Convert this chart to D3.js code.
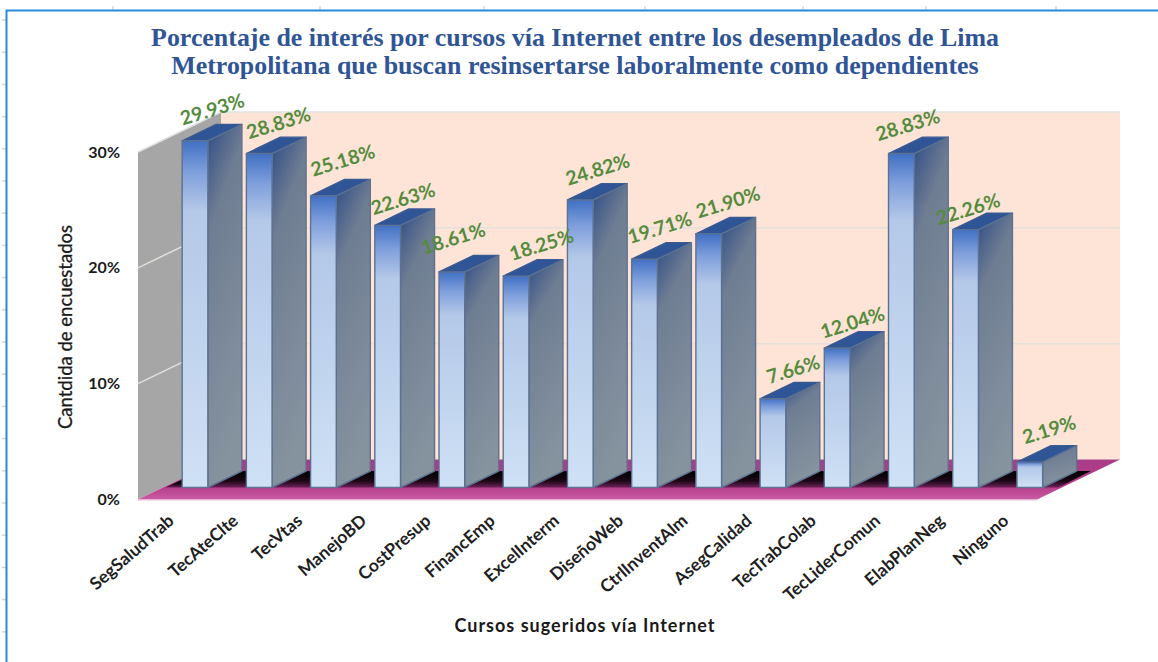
<!DOCTYPE html>
<html><head><meta charset="utf-8">
<style>html,body{margin:0;padding:0;background:#fff}svg{display:block}</style>
<script src="https://cdn.jsdelivr.net/npm/d3@7"></script></head>
<body><svg id="c" width="1158" height="662"></svg>
<script>
const categories=["SegSaludTrab","TecAteClte","TecVtas","ManejoBD","CostPresup","FinancEmp","ExcelInterm","DiseñoWeb","CtrlInventAlm","AsegCalidad","TecTrabColab","TecLiderComun","ElabPlanNeg","Ninguno"];
const values=[29.93,28.83,25.18,22.63,18.61,18.25,24.82,19.71,21.90,7.66,12.04,28.83,22.26,2.19];
const yTicks=[0,10,20,30];
const titleLines=["Porcentaje de interés por cursos vía Internet entre los desempleados de Lima","Metropolitana que buscan resinsertarse laboralmente como dependientes"];
const xTitle="Cursos sugeridos vía Internet";
const yTitle="Cantdida de encuestados";
// hand placement of the data labels relative to each bar's front-top corner
const labelShiftX=[30,32,32,28,14,38,30,28,32,33,28,19,15,32];
const labelShiftY=[-32,-31,-36,-27,-34,-32,-31,-32,-32,-30,-26,-29,-21,-33];

const svg=d3.select("#c");
const floorL=138,floorR=1037,floorY=499.5,topY=152;
const depthX=83,depthY=-40;
const x=d3.scaleBand().domain(categories).range([floorL,floorR]).paddingInner(0.6).paddingOuter(0.3);
const y=d3.scaleLinear().domain([0,30]).range([floorY,topY]);
const P=(px,v,d)=>[px+d*depthX,y(v)+d*depthY];
const poly=a=>a.map(p=>p.join(",")).join(" ");
const d0=0.3,d1=0.71;

const defs=svg.append("defs");
function grad(id,stops,x2=0,y2=1){const g=defs.append("linearGradient").attr("id",id).attr("x1",0).attr("y1",0).attr("x2",x2).attr("y2",y2);
 stops.forEach(s=>g.append("stop").attr("offset",s[0]).attr("stop-color",s[1]));}
grad("front",[[0,"#4170c4"],[0.09,"#7f9fdc"],[0.2,"#b4c8e8"],[1,"#cfe1f5"]]);
grad("side",[[0,"#2d4c85"],[0.28,"#6f7d93"],[1,"#85939f"]],0.25,1);
grad("floor",[[0,"#a93b87"],[0.7,"#b5408c"],[1,"#cb5aa4"]]);
grad("shade",[[0,"#000000"],[0.6,"#1c0716"],[1,"#6d2259"]]);

// frame and ruler marks
const ruler=svg.append("g").attr("stroke","#d4d4d4").attr("stroke-width",1.5);
d3.range(20,660,32.2).forEach(v=>ruler.append("line").attr("x1",2).attr("x2",6).attr("y1",v).attr("y2",v));
[113,320,484,645,803,926,1056].forEach(v=>ruler.append("line").attr("x1",v).attr("x2",v).attr("y1",6).attr("y2",10));
svg.append("path").attr("d","M6.5,662V10.5H1158").attr("fill","none").attr("stroke","#2a8ad8").attr("stroke-width",2);

// walls
svg.append("polygon").attr("points",poly([P(floorL,30,1),P(floorR,30,1),P(floorR,0,1),P(floorL,0,1)])).attr("fill","#fde4d6");
svg.append("polygon").attr("points",poly([P(floorL,30,0),P(floorL,30,1),P(floorL,0,1),P(floorL,0,0)])).attr("fill","#a6a6a6");
svg.append("polyline").attr("points",poly([P(floorL,30,0),P(floorL,30,1),P(floorR,30,1)])).attr("fill","none").attr("stroke","#e2e2e2").attr("stroke-width",1.5);
yTicks.filter(v=>v>0&&v<30).forEach(v=>{
 svg.append("polyline").attr("points",poly([P(floorL,v,0),P(floorL,v,1),P(floorR,v,1)])).attr("fill","none").attr("stroke","#e4e0dc").attr("stroke-width",1.5);
});
// floor
svg.append("polygon").attr("points",poly([P(floorL,0,0),P(floorL,0,1),P(floorR,0,1),P(floorR,0,0)])).attr("fill","url(#floor)");
svg.append("line").attr("x1",floorL).attr("x2",floorR).attr("y1",floorY+.5).attr("y2",floorY+.5).attr("stroke","#eab9d9").attr("stroke-width",1);

// bars
const bars=categories.map((c,i)=>({c,v:values[i],l:x(c),r:x(c)+x.bandwidth(),i}));
const step=x.step();
svg.append("g").selectAll("polygon").data(bars).join("polygon")
 .attr("points",b=>{
  const a=P(b.r,0,d0),e=P(b.r,0,d1);
  const open=step-x.bandwidth();
  if(b.i===categories.length-1) return poly([a,e,[e[0]+14,e[1]],[a[0]+16,a[1]]]);
  return poly([a,e,[a[0]+open,e[1]],[a[0]+open,a[1]]]);
 }).attr("fill","url(#shade)");
const first=bars[0], fp=P(first.l,0,d0);
svg.append("polygon").attr("points",poly([[fp[0]-17,fp[1]],[fp[0],fp[1]-8],fp])).attr("fill","url(#shade)");

const g=svg.append("g").selectAll("g").data(bars).join("g");
const edge={stroke:"#5d7290","stroke-width":1.4,"stroke-linejoin":"round"};
const styled=s=>{Object.entries(edge).forEach(([k,v])=>s.attr(k,v));return s;};
styled(g.append("polygon").attr("points",b=>poly([P(b.l,b.v,d0),P(b.l,b.v,d1),P(b.r,b.v,d1),P(b.r,b.v,d0)])).attr("fill","#2f5597")).attr("stroke","#3a5a92");
styled(g.append("polygon").attr("points",b=>poly([P(b.r,b.v,d0),P(b.r,b.v,d1),P(b.r,0,d1),P(b.r,0,d0)])).attr("fill","url(#side)"));
styled(g.append("polygon").attr("points",b=>poly([P(b.l,b.v,d0),P(b.r,b.v,d0),P(b.r,0,d0),P(b.l,0,d0)])).attr("fill","url(#front)"));

// data labels
svg.append("g").selectAll("text").data(bars).join("text")
 .attr("transform",b=>{const p=P(b.l,b.v,d0);return `translate(${p[0]+labelShiftX[b.i]},${p[1]+labelShiftY[b.i]}) rotate(-17)`;})
 .attr("text-anchor","middle").attr("dominant-baseline","central")
 .attr("font-family","Lato").attr("font-weight",700).attr("font-size",19.5).attr("fill","#558b3e")
 .text(b=>b.v.toFixed(2)+"%");

// value axis
const axisY=d3.axisLeft(y).tickValues(yTicks).tickSize(0).tickPadding(18).tickFormat(d=>d+"%");
const ax=svg.append("g").attr("transform",`translate(${floorL},0)`).call(axisY);
ax.select(".domain").remove();
ax.selectAll("text").attr("font-family","Lato").attr("font-weight",700).attr("font-size",16).attr("fill","#1a1a1a");

// category axis
const axisX=d3.axisBottom(x).tickSize(0).tickPadding(0);
const cx=svg.append("g").attr("transform",`translate(0,${floorY})`).call(axisX);
cx.select(".domain").remove();
cx.selectAll("text").attr("text-anchor","end").attr("dy",0)
 .attr("transform",`translate(5,23) rotate(-41)`)
 .attr("font-family","Lato").attr("font-weight",700).attr("font-size",17.5).attr("fill","#1f1f1f");

// titles
titleLines.forEach((t,i)=>svg.append("text").attr("x",575).attr("y",46+i*28).attr("text-anchor","middle").attr("font-family","Liberation Serif").attr("font-weight",700).attr("font-size",25.9).attr("fill","#2f5597").text(t));
svg.append("text").attr("x",585).attr("y",632).attr("text-anchor","middle").attr("font-family","Lato").attr("font-weight",700).attr("font-size",18).attr("letter-spacing",1).attr("fill","#1a1a1a").text(xTitle);
svg.append("text").attr("transform","translate(72,327) rotate(-90)").attr("text-anchor","middle").attr("font-family","Lato").attr("font-weight",400).attr("font-size",18.5).attr("stroke","#1a1a1a").attr("stroke-width",0.3).attr("fill","#1a1a1a").text(yTitle);
</script></body></html>
